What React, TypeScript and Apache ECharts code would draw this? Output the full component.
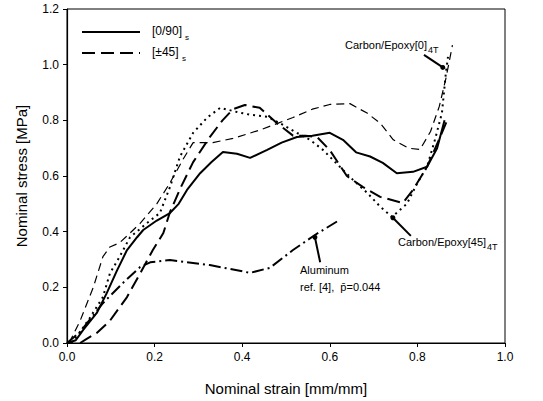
import React, { useEffect, useRef } from 'react';
import * as echarts from 'echarts';

const xTickValues = [0, 0.2, 0.4, 0.6, 0.8, 1.0];
const yTickValues = [0, 0.2, 0.4, 0.6, 0.8, 1.0, 1.2];

const legendNames = ['[0/90]', '[±45]'];
const legendSub = 's';

// [0/90]s  (solid)
const cross090: number[][] = [
  [0, 0], [0.02, 0.01], [0.037, 0.047], [0.068, 0.108], [0.091, 0.18], [0.114, 0.26],
  [0.137, 0.334], [0.16, 0.38], [0.174, 0.406], [0.205, 0.44], [0.235, 0.467], [0.255, 0.5],
  [0.274, 0.55], [0.304, 0.61], [0.33, 0.65], [0.356, 0.686], [0.388, 0.68], [0.418, 0.665],
  [0.457, 0.694], [0.49, 0.72], [0.525, 0.74], [0.56, 0.745], [0.6, 0.755], [0.63, 0.73],
  [0.66, 0.685], [0.692, 0.67], [0.721, 0.647], [0.753, 0.61], [0.79, 0.615], [0.822, 0.633],
  [0.845, 0.7], [0.862, 0.8],
];

// [±45]s (long dash)
const angle45: number[][] = [
  [0.03, 0], [0.045, 0.015], [0.068, 0.036], [0.098, 0.08], [0.137, 0.165], [0.167, 0.25],
  [0.196, 0.334], [0.22, 0.395], [0.235, 0.47], [0.26, 0.56], [0.288, 0.65], [0.326, 0.74],
  [0.355, 0.8], [0.379, 0.84], [0.406, 0.855], [0.44, 0.845], [0.479, 0.79], [0.516, 0.745],
  [0.545, 0.745], [0.571, 0.74], [0.6, 0.693], [0.639, 0.6], [0.676, 0.56], [0.715, 0.525],
  [0.767, 0.503], [0.79, 0.55], [0.822, 0.633], [0.852, 0.74], [0.868, 0.8],
];

// Carbon/Epoxy[0]4T (thin dash)
const carbon0: number[][] = [
  [0.005, 0], [0.03, 0.08], [0.06, 0.2], [0.082, 0.31], [0.098, 0.345], [0.12, 0.36],
  [0.144, 0.395], [0.167, 0.43], [0.205, 0.5], [0.235, 0.575], [0.265, 0.66], [0.288, 0.72],
  [0.333, 0.72], [0.379, 0.735], [0.44, 0.765], [0.516, 0.81], [0.56, 0.84], [0.6, 0.857],
  [0.646, 0.86], [0.685, 0.826], [0.715, 0.79], [0.745, 0.73], [0.78, 0.7], [0.806, 0.695],
  [0.83, 0.76], [0.85, 0.85], [0.865, 0.95], [0.88, 1.07],
];

// Carbon/Epoxy[45]4T (dotted)
const carbon45: number[][] = [
  [0.01, 0], [0.03, 0.04], [0.052, 0.09], [0.082, 0.165], [0.098, 0.25], [0.12, 0.31],
  [0.144, 0.38], [0.182, 0.43], [0.212, 0.467], [0.235, 0.56], [0.258, 0.67], [0.288, 0.755],
  [0.32, 0.81], [0.35, 0.845], [0.388, 0.83], [0.418, 0.82], [0.457, 0.813], [0.486, 0.79],
  [0.525, 0.755], [0.555, 0.73], [0.585, 0.693], [0.623, 0.633], [0.653, 0.586], [0.685, 0.54],
  [0.715, 0.49], [0.742, 0.453], [0.776, 0.5], [0.8, 0.575], [0.822, 0.633], [0.84, 0.73],
  [0.856, 0.826], [0.865, 0.97], [0.87, 1.03],
];

// Aluminum ref. [4] (dash-dot)
const aluminum: number[][] = [
  [0, 0], [0.03, 0.04], [0.082, 0.143], [0.128, 0.216], [0.167, 0.273], [0.19, 0.29],
  [0.235, 0.298], [0.326, 0.28], [0.418, 0.252], [0.463, 0.27], [0.516, 0.334], [0.566, 0.388],
  [0.62, 0.44],
];

// annotation leader lines: [text end, marker point]
const leader0: number[][] = [[0.815, 1.035], [0.858, 0.99]];
const leader45: number[][] = [[0.785, 0.385], [0.744, 0.45]];
const leaderAl: number[][] = [[0.578, 0.29], [0.566, 0.38]];

export default function App() {
  const ref = useRef<HTMLDivElement>(null);
  useEffect(() => {
    document.body.style.margin = '0';
    const chart = echarts.init(ref.current!, null, { renderer: 'svg' });
    const font = 'Liberation Sans, Arial, sans-serif';
    const line = (name: string, data: number[][], type: any, width: number) => ({
      type: 'line', name, data, symbol: 'none', showSymbol: false,
      lineStyle: { color: '#000', width, type }, z: 3,
    });
    const leader = (data: number[][]) => ({
      type: 'line',
      data: [
        { value: data[0], symbol: 'none' },
        { value: data[1], symbol: 'circle', symbolSize: 5 },
      ],
      showSymbol: true,
      itemStyle: { color: '#000' },
      lineStyle: { color: '#000', width: 2 },
      z: 4,
    });
    const txt = (x: number, y: number, text: string, size: number) => ({
      type: 'text', x, y,
      style: { text, fontFamily: font, fontSize: size, fill: '#000', textVerticalAlign: 'middle' },
    });
    chart.setOption({
      animation: false,
      backgroundColor: '#fff',
      grid: { left: 67, right: 38, top: 9, bottom: 58, show: true, borderColor: '#000', borderWidth: 1 },
      xAxis: {
        type: 'value', min: 0, max: 1, interval: 0.2,
        name: 'Nominal strain [mm/mm]', nameLocation: 'middle', nameGap: 38,
        nameTextStyle: { fontFamily: font, fontSize: 15, color: '#000' },
        axisLine: { lineStyle: { color: '#000', width: 1.2 } },
        axisTick: { show: true, length: 4, lineStyle: { color: '#000' } },
        axisLabel: { fontFamily: font, fontSize: 12, color: '#000', margin: 8,
          formatter: (v: number) => v.toFixed(1) },
        splitLine: { show: false },
      },
      yAxis: {
        type: 'value', min: 0, max: 1.2, interval: 0.2,
        name: 'Nominal stress [MPa]', nameLocation: 'middle', nameGap: 38,
        nameTextStyle: { fontFamily: font, fontSize: 15, color: '#000' },
        axisLine: { show: true, lineStyle: { color: '#000', width: 1.2 } },
        axisTick: { show: true, length: 4, lineStyle: { color: '#000' } },
        axisLabel: { fontFamily: font, fontSize: 12, color: '#000', margin: 8,
          formatter: (v: number) => v.toFixed(1) },
        splitLine: { show: false },
      },
      series: [
        line('[0/90]s', cross090, 'solid', 2),
        line('[±45]s', angle45, [13, 6], 2),
        line('Carbon/Epoxy[0]4T', carbon0, [8, 5], 1.2),
        line('Carbon/Epoxy[45]4T', carbon45, [2, 4], 2),
        line('Aluminum', aluminum, [12, 4, 2, 4], 2),
        leader(leader0),
        leader(leader45),
        leader(leaderAl),
      ],
      graphic: [
        { type: 'line', shape: { x1: 82, y1: 32, x2: 140, y2: 32 }, style: { stroke: '#000', lineWidth: 2 } },
        { type: 'line', shape: { x1: 82, y1: 53, x2: 140, y2: 53 }, style: { stroke: '#000', lineWidth: 2, lineDash: [13, 6] } },
        txt(152, 31, legendNames[0], 12),
        txt(185, 37, legendSub, 8),
        txt(152, 52, legendNames[1], 12),
        txt(182, 58, legendSub, 8),
        txt(345, 45, 'Carbon/Epoxy[0]', 11),
        txt(428, 50, '4T', 9),
        txt(398, 242, 'Carbon/Epoxy[45]', 11),
        txt(487, 247, '4T', 9),
        txt(300, 270, 'Aluminum', 11),
        txt(300, 287, 'ref. [4],  p\u0304=0.044', 11),
      ],
    });
    return () => chart.dispose();
  }, []);
  return <div ref={ref} style={{ position: 'absolute', left: 0, top: 0, width: 543, height: 401 }} />;
}
